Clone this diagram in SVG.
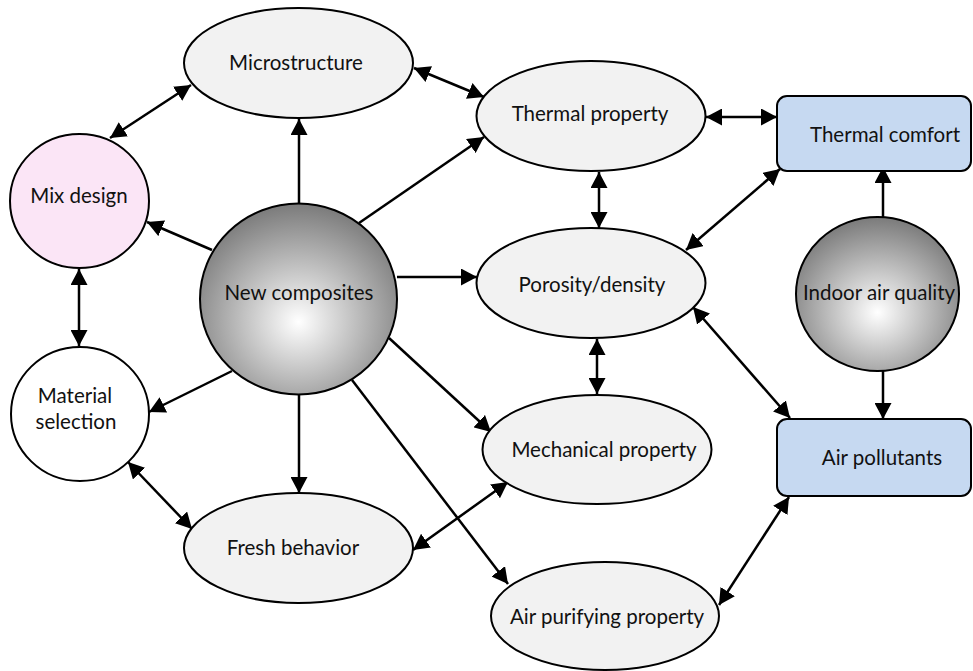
<svg xmlns="http://www.w3.org/2000/svg" width="973" height="671" viewBox="0 0 973 671">
<defs>
<radialGradient id="ball" cx="0.5" cy="0.6" r="0.62" fx="0.5" fy="0.62">
<stop offset="0" stop-color="#ffffff"/>
<stop offset="0.3" stop-color="#d6d6d6"/>
<stop offset="1" stop-color="#767676"/>
</radialGradient>
<marker id="ah" markerUnits="userSpaceOnUse" markerWidth="17" markerHeight="17" refX="16" refY="8.5" orient="auto-start-reverse" viewBox="0 0 17 17">
<path d="M0,0 L16,8.5 L0,17 z" fill="#000"/>
</marker>
</defs>
<style>
.n{stroke:#000;stroke-width:2}
.e{fill:#f2f2f2}
.b{fill:#c6d9f1}
.t{font-family:Lato,"Liberation Sans",sans-serif;font-size:20.5px;fill:#111;text-anchor:middle;dominant-baseline:central}
.c line{stroke:#000;stroke-width:2.5;fill:none}
.one{marker-end:url(#ah)}
.two{marker-start:url(#ah);marker-end:url(#ah)}
</style>
<rect width="973" height="671" fill="#fff"/>
<g class="c" id="connectors">
<line class="two" x1="110" y1="138" x2="191" y2="85"/>
<line class="one" x1="299" y1="204" x2="299" y2="119"/>
<line class="two" x1="414" y1="68" x2="484" y2="97"/>
<line class="one" x1="359" y1="223" x2="484" y2="137"/>
<line class="one" x1="212" y1="250" x2="147" y2="222"/>
<line class="two" x1="79" y1="269" x2="79" y2="346"/>
<line class="one" x1="397" y1="277" x2="477" y2="277"/>
<line class="two" x1="706" y1="117" x2="777" y2="117"/>
<line class="two" x1="599" y1="172" x2="599" y2="228"/>
<line class="two" x1="686" y1="250" x2="780" y2="169"/>
<line class="one" x1="883" y1="224" x2="883" y2="167"/>
<line class="two" x1="693" y1="307" x2="790" y2="418"/>
<line class="one" x1="883" y1="364" x2="883" y2="419"/>
<line class="two" x1="597" y1="339" x2="597" y2="394"/>
<line class="one" x1="389" y1="338" x2="491" y2="432"/>
<line class="two" x1="128" y1="462" x2="192" y2="529"/>
<line class="one" x1="232" y1="371" x2="149" y2="412"/>
<line class="one" x1="299" y1="394" x2="299" y2="493"/>
<line class="two" x1="413" y1="550" x2="508" y2="482"/>
<line class="one" x1="352" y1="380" x2="508" y2="584"/>
<line class="two" x1="719" y1="605" x2="789" y2="497"/>
</g>
<g id="microstructure"><ellipse class="n e" cx="298.5" cy="63" rx="114.5" ry="55"/><text class="t" x="296" y="62">Microstructure</text></g>
<g id="mix-design"><ellipse class="n" fill="#fbe5f6" cx="79.5" cy="201" rx="69.5" ry="67"/><text class="t" x="79" y="195">Mix design</text></g>
<g id="new-composites"><ellipse class="n" fill="url(#ball)" cx="298.5" cy="299" rx="98.5" ry="95.5"/><text class="t" x="299" y="292">New composites</text></g>
<g id="thermal-property"><ellipse class="n e" cx="591" cy="116" rx="114.5" ry="55"/><text class="t" x="590" y="113">Thermal property</text></g>
<g id="thermal-comfort"><rect class="n b" x="777" y="96" width="194" height="75" rx="10"/><text class="t" x="885" y="134">Thermal comfort</text></g>
<g id="porosity-density"><ellipse class="n e" cx="591" cy="283" rx="114.5" ry="55"/><text class="t" x="592" y="284">Porosity/density</text></g>
<g id="indoor-air-quality"><ellipse class="n" fill="url(#ball)" cx="877.5" cy="294" rx="81.5" ry="77"/><text class="t" x="879" y="292">Indoor air quality</text></g>
<g id="mechanical-property"><ellipse class="n e" cx="597" cy="449.5" rx="114.5" ry="54.5"/><text class="t" x="604" y="449">Mechanical property</text></g>
<g id="air-pollutants"><rect class="n b" x="777" y="419" width="194" height="77" rx="10"/><text class="t" x="882" y="457">Air pollutants</text></g>
<g id="air-purifying-property"><ellipse class="n e" cx="605" cy="616" rx="114" ry="54"/><text class="t" x="607" y="616">Air purifying property</text></g>
<g id="material-selection"><ellipse class="n" fill="#fff" cx="80" cy="414" rx="69" ry="67"/><text class="t" x="75" y="395">Material</text><text class="t" x="76" y="421">selection</text></g>
<g id="fresh-behavior"><ellipse class="n e" cx="298.5" cy="548" rx="114.5" ry="55"/><text class="t" x="293" y="547">Fresh behavior</text></g>
</svg>
